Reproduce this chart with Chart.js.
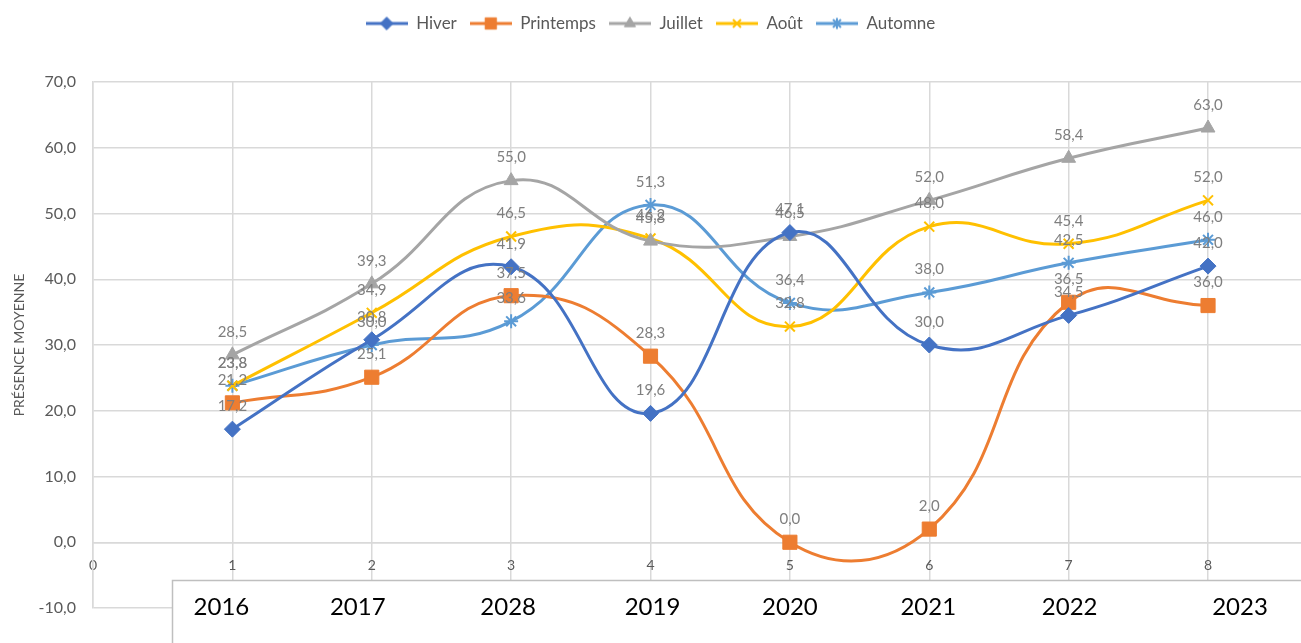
<!DOCTYPE html>
<html>
<head>
<meta charset="utf-8">
<script src="https://cdn.jsdelivr.net/npm/chart.js@4.4.0/dist/chart.umd.min.js"></script>
<style>
  html, body { margin: 0; padding: 0; background: #fff; }
  #wrap { position: relative; width: 1301px; height: 643px; }
</style>
</head>
<body>
<div id="wrap"><canvas id="chart" width="1301" height="643"></canvas></div>
<script>
const xValues = [1, 2, 3, 4, 5, 6, 7, 8];
const years = ['2016', '2017', '2028', '2019', '2020', '2021', '2022', '2023'];
const hiver = [17.2, 30.8, 41.9, 19.6, 47.1, 30.0, 34.5, 42.0];
const printemps = [21.2, 25.1, 37.5, 28.3, 0.0, 2.0, 36.5, 36.0];
const juillet = [28.5, 39.3, 55.0, 45.8, 46.5, 52.0, 58.4, 63.0];
const aout = [23.8, 34.9, 46.5, 46.2, 32.8, 48.0, 45.4, 52.0];
const automne = [23.8, 30.0, 33.6, 51.3, 36.4, 38.0, 42.5, 46.0];
const yMin = -10, yMax = 70, yStep = 10;
const xMin = 0, xMax = 8.667;

const FONT = 'Lato, "Noto Sans", sans-serif';
const GRID = '#d9d9d9';
const TXT = '#595959';
// the year row is a typed-in box, its labels are not exactly on the ticks
const yearShift = [-11, -14, -3, 2, 0, -1, 1, 32];

function fmt(v) {
  return v.toFixed(1).replace('.', ',')
}

function toPoints(arr) {
  return arr.map((v, i) => ({ x: xValues[i], y: v }))
}

function legendIcon(color, style, radius, bw) {
  const c = document.createElement('canvas');
  c.width = 42;
  c.height = 16;
  const g = c.getContext('2d');
  g.strokeStyle = color;
  g.fillStyle = color;
  g.lineWidth = 3;
  g.beginPath();
  g.moveTo(0, 8);
  g.lineTo(42, 8);
  g.stroke();
  g.lineWidth = bw;
  Chart.helpers.drawPoint(g, { pointStyle: style, radius: radius, rotation: 0, borderWidth: bw }, 21, 8);
  return c;
}

const series = [
  { label: 'Hiver', data: hiver, color: '#4472C4', style: 'rectRot', r: 8, bw: 1 },
  { label: 'Printemps', data: printemps, color: '#ED7D31', style: 'rect', r: 10, bw: 1 },
  { label: 'Juillet', data: juillet, color: '#A5A5A5', style: 'triangle', r: 8, bw: 1 },
  { label: 'Août', data: aout, color: '#FFC000', style: 'crossRot', r: 7, bw: 2 },
  { label: 'Automne', data: automne, color: '#5B9BD5', style: 'star', r: 7, bw: 2 },
];

const dataLabels = {
  id: 'dataLabels',
  afterDatasetsDraw(chart) {
    const ctx = chart.ctx;
    ctx.save();
    ctx.font = '15px ' + FONT;
    ctx.fillStyle = '#7f7f7f';
    ctx.textAlign = 'center';
    ctx.textBaseline = 'middle';
    chart.data.datasets.forEach((ds, i) => {
      const meta = chart.getDatasetMeta(i);
      meta.data.forEach((pt, j) => {
        ctx.fillText(fmt(ds.data[j].y), pt.x, pt.y - 23);
      })
    })
    ctx.restore();
  }
}

// extra room under the legend so the plot starts lower
const legendRoom = {
  id: 'legendRoom',
  beforeInit(chart) {
    const fit = chart.legend.fit;
    chart.legend.fit = function () {
      fit.call(this);
      this.height += 40;
    }
  }
}

// let the plot run to the right edge of the canvas
const fullWidth = {
  id: 'fullWidth',
  afterLayout(chart) {
    const a = chart.chartArea;
    a.right = chart.width;
    a.width = a.right - a.left;
    const xs = chart.scales.x;
    xs.right = a.right;
    xs.width = a.width;
    xs.configure();
  }
}

const yearBox = {
  id: 'yearBox',
  afterDraw(chart) {
    const ctx = chart.ctx;
    const xs = chart.scales.x;
    ctx.save();
    ctx.fillStyle = '#fff';
    ctx.fillRect(172, 580, chart.width - 172, chart.height - 580);
    ctx.strokeStyle = '#bfbfbf';
    ctx.lineWidth = 1.5;
    ctx.beginPath();
    ctx.moveTo(172.5, chart.height);
    ctx.lineTo(172.5, 580.5);
    ctx.lineTo(chart.width, 580.5);
    ctx.stroke();
    ctx.font = '24px ' + FONT;
    ctx.fillStyle = '#000';
    ctx.textAlign = 'center';
    ctx.textBaseline = 'middle';
    years.forEach((y, i) => {
      ctx.fillText(y, xs.getPixelForValue(xValues[i]) + yearShift[i], 607);
    })
    ctx.restore();
  }
}

const chart = new Chart(document.getElementById('chart'), {
  type: 'scatter',
  data: {
    datasets: series.map(s => ({
      label: s.label,
      data: toPoints(s.data),
      showLine: true,
      tension: 0.45,
      borderColor: s.color,
      backgroundColor: s.color,
      borderWidth: 3,
      pointStyle: s.style,
      pointRadius: s.r,
      pointHoverRadius: s.r,
      pointBorderWidth: s.bw,
      pointBorderColor: s.color,
      pointBackgroundColor: s.color,
      clip: false,
    }))
  },
  options: {
    responsive: false,
    animation: false,
    layout: { padding: { top: 2, bottom: 35, left: 0, right: 0 } },
    plugins: {
      tooltip: { enabled: false },
      legend: {
        position: 'top',
        labels: {
          usePointStyle: true,
          pointStyleWidth: 42,
          color: TXT,
          font: { family: FONT, size: 17 },
          padding: 13,
          generateLabels(chart) {
            return series.map((s, i) => ({
              text: s.label,
              fillStyle: s.color,
              strokeStyle: s.color,
              lineWidth: 0,
              pointStyle: legendIcon(s.color, s.style, s.r * 0.8, s.bw),
              fontColor: TXT,
              hidden: false,
              datasetIndex: i,
            }))
          }
        }
      }
    },
    scales: {
      x: {
        type: 'linear',
        position: { y: 0 },
        min: xMin,
        max: xMax,
        grid: { color: GRID, lineWidth: 1.5, drawTicks: false },
        border: { color: GRID, width: 1.5 },
        ticks: {
          stepSize: 1,
          includeBounds: false,
          padding: 15,
          color: TXT,
          font: { family: FONT, size: 14 },
        }
      },
      y: {
        min: yMin,
        max: yMax,
        afterFit(scale) { scale.width = 93; },
        grid: { color: GRID, lineWidth: 1.5, drawTicks: false },
        border: { color: GRID, width: 1.5 },
        ticks: {
          stepSize: yStep,
          padding: 17,
          color: TXT,
          font: { family: FONT, size: 16 },
          callback: v => fmt(v),
        },
        title: {
          display: true,
          text: 'PRÉSENCE MOYENNE',
          color: TXT,
          font: { family: FONT, size: 14 },
          padding: { top: 11, bottom: 0 },
        }
      }
    }
  },
  plugins: [dataLabels, legendRoom, fullWidth, yearBox]
});
</script>
</body>
</html>
